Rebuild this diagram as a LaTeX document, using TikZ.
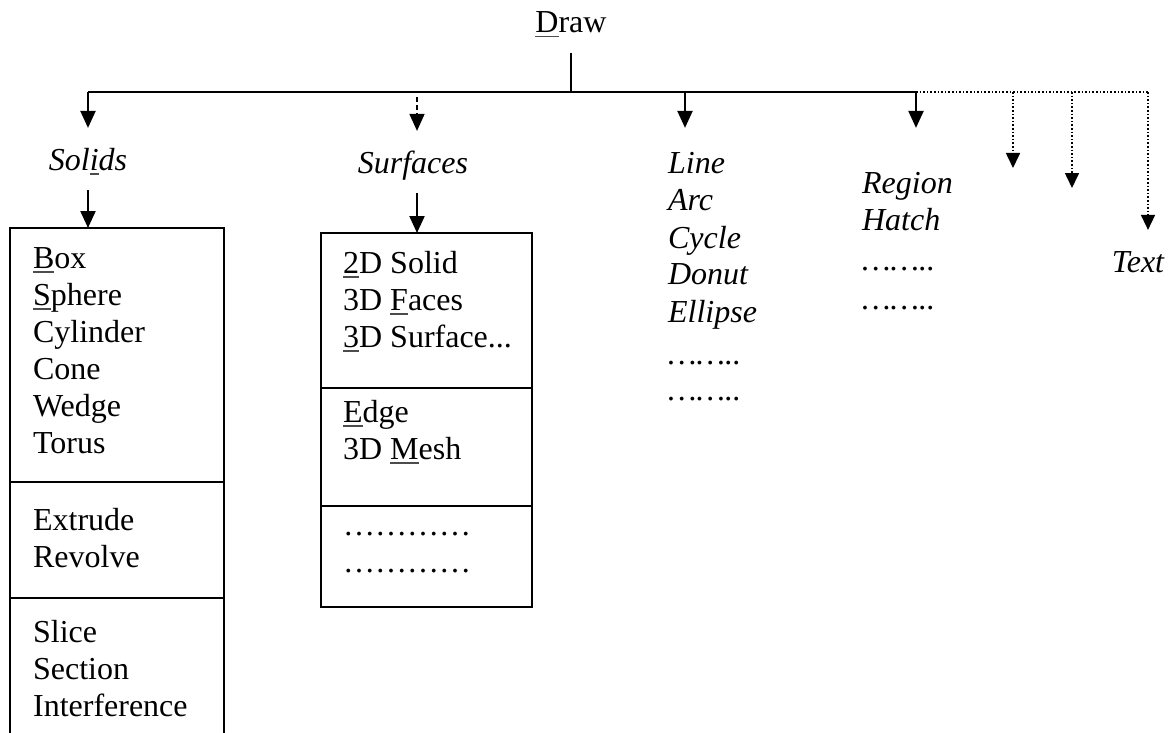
\documentclass[tikz,border=0pt]{standalone}
\usepackage{fontspec}
\setmainfont{Liberation Serif}
\usetikzlibrary{arrows.meta}
\newcommand\ulkey[1]{\setbox0\hbox{#1}\rlap{\color{black!70}\rule[-4.5pt]{\wd0}{1.3pt}}\box0}

\begin{document}
\begin{tikzpicture}[x=1pt,y=-1pt,->,>={Triangle[length=17pt,width=15pt]},
    line width=2.2pt,
    every node/.style={font=\fontsize{32}{37}\selectfont,inner sep=0pt},
    head node/.style={font=\fontsize{32}{37}\selectfont\itshape,
      text height=22pt,text depth=0pt,inner ysep=19pt,anchor=base},
    item node/.style={anchor=base west},
    list node/.style={anchor=base west,font=\fontsize{32}{37}\selectfont\itshape},
    box line/.style={-,line width=2.6pt},
    more line/.style={dotted,line width=1.6pt,>={Triangle[length=15pt,width=14pt]}}]

    \useasboundingbox (0,0) rectangle (1175,733);

    \node (drw) [anchor=base,text depth=0pt,inner ysep=19pt] at (571,33) {\ulkey{D}raw};
    \node[head node] (solids) at (88,170) {Sol\ulkey{i}ds};
    \node[head node] (surf) at (413,173) {Surfaces};
    \node[head node] (txt) at (1138,272) {Text};

    \node[list node] (line) at (667,173) {Line};
    \node[list node] (arc) at (667,210) {Arc};
    \node[list node] (cycle) at (667,248) {Cycle};
    \node[list node] (donut) at (667,284) {Donut};
    \node[list node] (ellipse) at (667,322) {Ellipse};
    \node[list node] (lmore1) at (667,364) {……..};
    \node[list node] (lmore2) at (667,400) {……..};

    \node[list node] (region) at (861,193) {Region};
    \node[list node] (hatch) at (861,230) {Hatch};
    \node[list node] (rmore1) at (861,270) {……..};
    \node[list node] (rmore2) at (861,309) {……..};

    %% taps on the bus
    \coordinate (hub) at (571,92);
    \coordinate (tapS) at (88,92);
    \coordinate (tapF) at (417,97);
    \coordinate (tapL) at (685,92);
    \coordinate (tapR) at (916,92);
    \coordinate (tapA) at (1013,92);
    \coordinate (tapB) at (1072,92);
    \coordinate (tapT) at (1148,92);
    \coordinate (endA) at (1013,168);
    \coordinate (endB) at (1072,188);
    \coordinate (sboxtop) at (88,228);
    \coordinate (fboxtop) at (417,233);

    %% solids box
    \draw[box line] (10,733) -- (10,228) -- (224,228) -- (224,733);
    \draw[-] (10,482) -- (224,482) (10,598) -- (224,598);
    \foreach \t [count=\i from 0] in {\ulkey{B}ox,\ulkey{S}phere,Cylinder,Cone,Wedge,Torus}
      \node[item node] (solA\i) at (32,268+37*\i) {\t};
    \foreach \t [count=\i from 0] in {Extrude,Revolve}
      \node[item node] (solB\i) at (32,530+37*\i) {\t};
    \foreach \t [count=\i from 0] in {Slice,Section,Interference}
      \node[item node] (solC\i) at (32,642+37*\i) {\t};

    %% surfaces box
    \draw[box line] (321,233) rectangle (532,607);
    \draw[-] (321,388) -- (532,388) (321,506) -- (532,506);
    \node[item node] (surA0) at (342,273) {\ulkey{2}D Solid};
    \node[item node] (surA1) at (342,310) {3D \ulkey{F}aces};
    \node[item node] (surA2) at (342,347) {\ulkey{3}D Surface...};
    \node[item node] (surB0) at (342,422) {\ulkey{E}dge};
    \node[item node] (surB1) at (342,459) {3D \ulkey{M}esh};
    \node[item node] (surC0) at (342,535) {…………};
    \node[item node] (surC1) at (342,572) {…………};

    %% connectors
    \draw[-] (drw) -- (hub);
    \draw[-] (tapS) -- (tapR);
    \draw[-,more line] (tapR) -- (tapT);
    \draw (tapS) -- (solids);
    \draw[dash pattern=on 5pt off 3pt,line width=1.6pt] (tapF) -- (tapF |- surf.north);
    \draw (tapL) -- (tapL |- solids.north);
    \draw (tapR) -- (tapR |- solids.north);
    \draw[more line] (tapA) -- (endA);
    \draw[more line] (tapB) -- (endB);
    \draw[more line] (tapT) -- (tapT |- txt.north);
    \draw (solids) -- (sboxtop);
    \draw (surf.south -| fboxtop) -- (fboxtop);
\end{tikzpicture}
\end{document}
